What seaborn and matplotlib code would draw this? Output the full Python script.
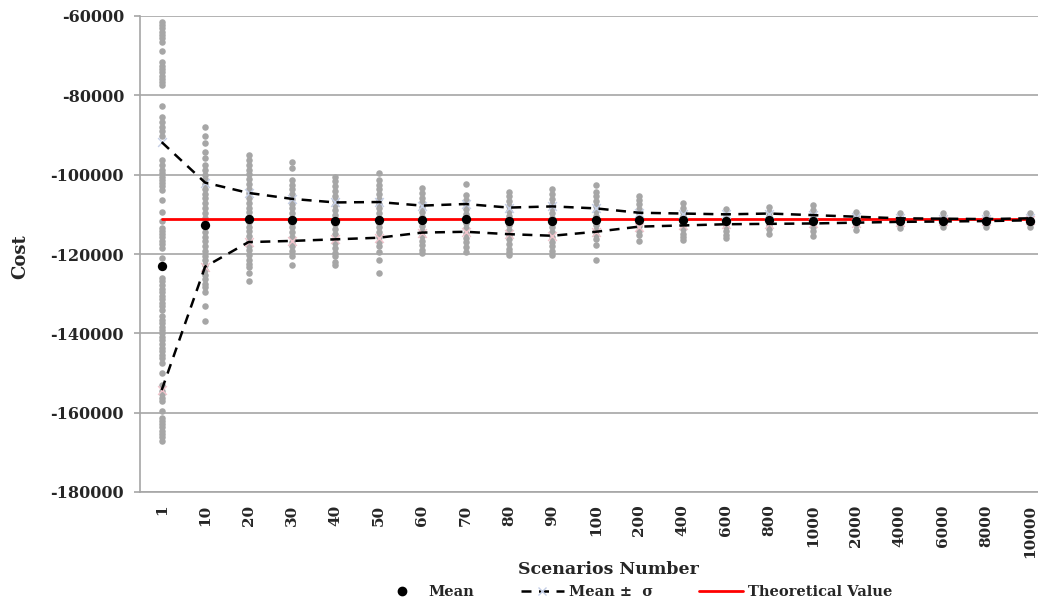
import numpy as np
import pandas as pd
import matplotlib
matplotlib.use("Agg")
import matplotlib.pyplot as plt
from matplotlib.lines import Line2D
import seaborn as sns

scenarios = ["1", "10", "20", "30", "40", "50", "60", "70", "80", "90", "100",
             "200", "400", "600", "800", "1000", "2000", "4000", "6000", "8000", "10000"]

samples_1 = [-61400, -62300, -63100, -64000, -64800, -65600, -66500, -68700, -71700, -72500,
             -73400, -74200, -75000, -75900, -76700, -77400, -82600, -85400, -86600, -87900,
             -89100, -90200, -96300, -97500, -98800, -99500, -100500, -101300, -102100, -102900,
             -103800, -106300, -109300, -111800, -113400, -114200, -115000, -115800, -116600,
             -117400, -118400, -121000, -123200, -126000, -126900, -127800, -128700, -129600,
             -130500, -131400, -132300, -133200, -134000, -135700, -136600, -137400, -138300,
             -139100, -140000, -140900, -141800, -142700, -143600, -144500, -145400, -146300,
             -147400, -150000, -153000, -154600, -155400, -156300, -157100, -159700, -161300,
             -162100, -162900, -163700, -164500, -165300, -166200, -167200]
samples_10 = [-87900, -90200, -92100, -94200, -95900, -97500, -98800, -100000, -101200, -102400,
              -103600, -104800, -106000, -107200, -108400, -109600, -110800, -112000, -113200,
              -114400, -115600, -116800, -118000, -119200, -120400, -121600, -122800, -124000,
              -125200, -126400, -127600, -128200, -129500, -133200, -137000]
samples_20 = [-95000, -96300, -97500, -98700, -99900, -101100, -102300, -103500, -104700, -105900,
              -107100, -108300, -109500, -110700, -111900, -113100, -114300, -115500, -116700,
              -117900, -119100, -120300, -121500, -122400, -123200, -124800, -126900]
samples_30 = [-96700, -98400, -101300, -102500, -103700, -104900, -106100, -107300, -108500,
              -109700, -110900, -112100, -113300, -114500, -115700, -116900, -118100, -119300,
              -120600, -122700]
samples_40 = [-100500, -101700, -102900, -104100, -105300, -106500, -107700, -108900, -110100,
              -111300, -112500, -113700, -114900, -116100, -117300, -118500, -119700, -120600,
              -121900, -122700]
samples_50 = [-99500, -101300, -102500, -103700, -104900, -106100, -107300, -108500, -109700,
              -110900, -112100, -113300, -114500, -115700, -116900, -118100, -119400, -121500,
              -124700]
samples_60 = [-103400, -104600, -105800, -107000, -108200, -109400, -110600, -111800, -113000,
              -114200, -115400, -116600, -117800, -119000, -119800]
samples_70 = [-102300, -105100, -106300, -107500, -108700, -109900, -111100, -112300, -113500,
              -114700, -115900, -117100, -118300, -119400]
samples_80 = [-104300, -105500, -106700, -107900, -109100, -110300, -111500, -112700, -113900,
              -115100, -116300, -117500, -118700, -119500, -120200]
samples_90 = [-103700, -104900, -106100, -107300, -108500, -109700, -110900, -112100, -113300,
              -114500, -115700, -116900, -118100, -119300, -120200]
samples_100 = [-102600, -104300, -105500, -106700, -107900, -109100, -110300, -111500, -112700,
               -113900, -115100, -116300, -117700, -121500]
samples_200 = [-105300, -106400, -107500, -108600, -109700, -110800, -111900, -113000, -114100,
               -115200, -116600]
samples_400 = [-107200, -108300, -109400, -110500, -111600, -112700, -113800, -114900, -115700,
               -116400]
samples_600 = [-108700, -109800, -110900, -112000, -113100, -114200, -115300, -116000]
samples_800 = [-108200, -109300, -110400, -111500, -112600, -113700, -114900]
samples_1000 = [-107700, -108800, -109900, -111000, -112100, -113200, -114300, -115400]
samples_2000 = [-109400, -110500, -111600, -112700, -113900]
samples_4000 = [-109700, -110700, -111700, -112600, -113500]
samples_6000 = [-109700, -110600, -111500, -112400, -113100]
samples_8000 = [-109700, -110700, -111600, -112500, -113300]
samples_10000 = [-109700, -110600, -111500, -112300, -113100]

all_samples = [samples_1, samples_10, samples_20, samples_30, samples_40, samples_50, samples_60,
               samples_70, samples_80, samples_90, samples_100, samples_200, samples_400,
               samples_600, samples_800, samples_1000, samples_2000, samples_4000, samples_6000,
               samples_8000, samples_10000]

mean_vals = [-123000, -112700, -111200, -111500, -111800, -111500, -111500, -111200, -111800,
             -111800, -111500, -111500, -111500, -111600, -111400, -111600, -111600, -111600,
             -111600, -111600, -111600]
upper_vals = [-91800, -102000, -104600, -106100, -107000, -106900, -107800, -107400, -108300,
              -108000, -108500, -109600, -109800, -110000, -109800, -110200, -110600, -111000,
              -111100, -111200, -111000]
lower_vals = [-154300, -123200, -117000, -116700, -116300, -115900, -114600, -114400, -115000,
              -115400, -114400, -113100, -112800, -112500, -112400, -112300, -112100, -111900,
              -111800, -111700, -111500]
theoretical_value = -111200

yticks = [-60000, -80000, -100000, -120000, -140000, -160000, -180000]

# ---- data frames ----
rows = []
for sc, vals in zip(scenarios, all_samples):
    for v in vals:
        rows.append((sc, v))
df_samples = pd.DataFrame(rows, columns=["Scenarios", "Cost"])
pos = np.arange(len(scenarios))
df_summary = pd.DataFrame({"pos": pos, "mean": mean_vals, "upper": upper_vals,
                           "lower": lower_vals,
                           "theo": [theoretical_value] * len(scenarios)})

sns.set_theme(style="white")
plt.rcParams["font.family"] = ["DejaVu Serif"]
plt.rcParams["font.weight"] = "bold"

W, H = 1038, 604
fig = plt.figure(figsize=(W / 100, H / 100), dpi=100)
left, right, top, bottom = 140, 1038, 16, 492
ax = fig.add_axes([left / W, 1 - bottom / H, (right - left) / W, (bottom - top) / H])

grid_c = "#a6a6a6"
ax.set_axisbelow(True)
for t in yticks:
    ax.axhline(t, color=grid_c, lw=1.2, zorder=0)

sns.stripplot(data=df_samples, x="Scenarios", y="Cost", order=scenarios, jitter=False,
              color="#a6a6a6", size=4.7, linewidth=0, ax=ax, zorder=2)

dash = (0, (4, 3))
sns.lineplot(data=df_summary, x="pos", y="theo", color="#ff0000", lw=2, ax=ax, zorder=3)
sns.lineplot(data=df_summary, x="pos", y="upper", color="black", lw=1.8, ax=ax, zorder=4,
             linestyle=dash)
sns.lineplot(data=df_summary, x="pos", y="lower", color="black", lw=1.8, ax=ax, zorder=4,
             linestyle=dash)
sns.scatterplot(data=df_summary, x="pos", y="upper", marker="x", color="#c5cfe6", s=40,
                linewidth=1, ax=ax, zorder=3.5)
sns.scatterplot(data=df_summary, x="pos", y="lower", marker="x", color="#f2c4cc", s=40,
                linewidth=1, ax=ax, zorder=3.5)
sns.scatterplot(data=df_summary, x="pos", y="mean", color="black", s=45, linewidth=0,
                ax=ax, zorder=5)

unit = 43.4
ax.set_xlim(-0.5, -0.5 + (right - left) / unit)
ax.set_ylim(-180000, -60000)
ax.set_yticks(yticks)
ax.set_yticklabels([str(t) for t in yticks])
ax.set_xticks(pos)
ax.set_xticklabels(scenarios, rotation=90)

for s in ["top", "right"]:
    ax.spines[s].set_visible(False)
for s in ["left", "bottom"]:
    ax.spines[s].set_color(grid_c)
    ax.spines[s].set_linewidth(1.2)

ax.tick_params(axis="y", left=True, length=4, color=grid_c, width=1.2, pad=7.5,
               labelsize=11.5)
ax.tick_params(axis="x", bottom=False, length=0, pad=9, labelsize=11)
for lab in ax.get_xticklabels() + ax.get_yticklabels():
    lab.set_fontweight("bold")

ax.set_xlabel("Scenarios Number", fontsize=12.5, fontweight="bold")
ax.set_ylabel("Cost", fontsize=13, fontweight="bold")
ax.xaxis.set_label_coords((608 - left) / (right - left), -(561 - bottom) / (bottom - top))
ax.yaxis.set_label_coords((29 - left) / (right - left), (bottom - 257) / (bottom - top))

handles = [
    Line2D([], [], color="black", marker="o", linestyle="none", markersize=6),
    Line2D([], [], color="black", linestyle=dash, lw=1.8, marker="x",
           markeredgecolor="#c5cfe6", markersize=6),
    Line2D([], [], color="#ff0000", lw=2),
]
fig.legend(handles, ["Mean", "Mean \u00b1  σ", "Theoretical Value"], loc="center",
           bbox_to_anchor=(636 / W, 1 - 592 / H), ncol=3, frameon=False,
           prop={"family": "DejaVu Serif", "weight": "bold", "size": 10.5},
           handlelength=3.0, columnspacing=3.2, handletextpad=0.3)

fig.savefig("out.png", dpi=100)
